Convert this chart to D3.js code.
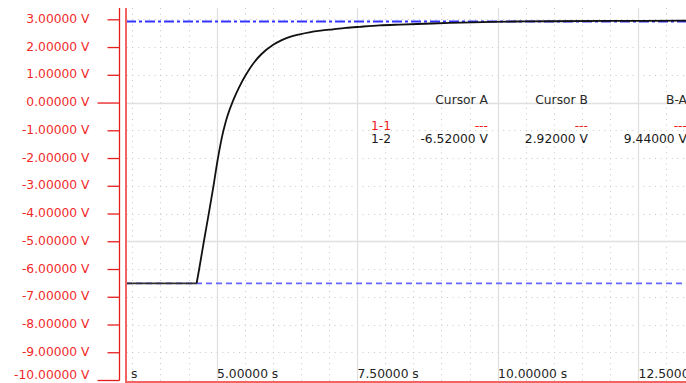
<!DOCTYPE html>
<html><head><meta charset="utf-8">
<script src="https://cdn.jsdelivr.net/npm/d3@7"></script>
<style>
html,body{margin:0;padding:0;background:#fff;}
svg{display:block;font-family:"DejaVu Sans",Verdana,sans-serif;}
</style></head>
<body>
<svg id="c" width="686" height="383"></svg>
<script>
// ---- data ----
const flatT = [3.39, 4.644];
const flatV = [-6.52, -6.52];
const timeS = [4.644, 4.69, 4.774, 4.863, 4.945, 5.02, 5.10, 5.19, 5.295, 5.40, 5.521, 5.65, 5.80, 6.007, 6.15, 6.304, 6.48, 6.65, 6.85, 7.07, 7.30, 7.55, 7.90, 8.26, 8.70, 9.15, 9.74, 10.34, 11.0, 12.0, 13.4];
const volts = [-6.52, -6.0, -5.0, -3.98, -3.0, -2.05, -1.2, -0.5, 0.08, 0.55, 1.0, 1.4, 1.75, 2.08, 2.24, 2.37, 2.46, 2.53, 2.59, 2.64, 2.69, 2.73, 2.78, 2.81, 2.84, 2.87, 2.90, 2.92, 2.93, 2.94, 2.95];
const yTicks = [3, 2, 1, 0, -1, -2, -3, -4, -5, -6, -7, -8, -9, -10];
const yMajor = [0, -10];
const xTicks = [5, 7.5, 10, 12.5];
const cursorA = -6.52, cursorB = 2.92;
const cursorHeaders = ["Cursor A", "Cursor B", "B-A"];
const row11 = ["---", "---", "---"];
const row12 = ["-6.52000 V", "2.92000 V", "9.44000 V"];
const rowLabels = ["1-1", "1-2"];

// ---- layout ----
const svg = d3.select("#c");
const L = 126, R = 686, T = 8, B = 382;
const x = d3.scaleLinear().domain([5, 12.5]).range([216.6, 638.1]);
const y = d3.scaleLinear().domain([-10, 3]).range([380, 19.3]);
const tMin = x.invert(L), tMax = x.invert(R);
const vMax = y.invert(T);

svg.append("clipPath").attr("id","clip").append("rect")
  .attr("x", L+1).attr("y", T).attr("width", R-L-1).attr("height", B-T-1);
const plot = svg.append("g").attr("clip-path","url(#clip)");

// dotted minor grid
const dx = x(5.1) - x(5), dy = y(0) - y(0.2);
const vMinor = d3.range(Math.ceil(tMin*2)/2, tMax, 0.5).filter(t => Math.abs(t/2.5 - Math.round(t/2.5)) > 1e-6);
plot.selectAll(".vminor").data(vMinor).join("line")
  .attr("x1", d => Math.round(x(d))+0.5).attr("x2", d => Math.round(x(d))+0.5)
  .attr("y1", y(vMax)).attr("y2", B)
  .attr("stroke", "#c8c8c8").attr("stroke-width", 1)
  .attr("stroke-dasharray", `1,${dy-1}`);
const hMinor = d3.range(-10, 4, 1).filter(v => v % 5 !== 0);
plot.selectAll(".hminor").data(hMinor).join("line")
  .attr("x1", L).attr("x2", R)
  .attr("y1", d => Math.round(y(d))+0.5).attr("y2", d => Math.round(y(d))+0.5)
  .attr("stroke", "#c8c8c8").attr("stroke-width", 1)
  .attr("stroke-dasharray", `1,${dx-1}`)
  .attr("stroke-dashoffset", -((x(3.5)-L) % dx));

// major grid
plot.selectAll(".vmajor").data(xTicks).join("line")
  .attr("x1", d => Math.round(x(d))+0.5).attr("x2", d => Math.round(x(d))+0.5)
  .attr("y1", T).attr("y2", B)
  .attr("stroke", "#e0e0e0").attr("stroke-width", 1.3);
plot.selectAll(".hmajor").data([0, -5]).join("line")
  .attr("x1", L).attr("x2", R)
  .attr("y1", d => Math.round(y(d))+0.5).attr("y2", d => Math.round(y(d))+0.5)
  .attr("stroke", "#e0e0e0").attr("stroke-width", 1.3);

// cursor lines
plot.append("line").attr("x1", L).attr("x2", R)
  .attr("y1", y(cursorB)).attr("y2", y(cursorB))
  .attr("stroke", "#3333ff").attr("stroke-width", 1.8)
  .attr("stroke-dasharray", "10,3,3,3");
plot.append("line").attr("x1", L).attr("x2", R)
  .attr("y1", y(cursorA)).attr("y2", y(cursorA))
  .attr("stroke", "#6666ff").attr("stroke-width", 1.8)
  .attr("stroke-dasharray", "6,4");

// trace
const lineGen = d3.line().x(d => x(d[0])).y(d => y(d[1]));
plot.append("path").datum(flatT.map((t, i) => [t, flatV[i]]))
  .attr("d", lineGen)
  .attr("fill", "none").attr("stroke", "#303030").attr("stroke-width", 1.8);
plot.append("path").datum(timeS.map((t, i) => [t, volts[i]]))
  .attr("d", lineGen.curve(d3.curveCatmullRom.alpha(0.5)))
  .attr("fill", "none").attr("stroke", "#111").attr("stroke-width", 1.8);

// cursor table
const tbl = svg.append("g").attr("font-size", "12.3px");
const colRight = [488, 588, 687];
tbl.selectAll(".hdr").data(cursorHeaders).join("text")
  .attr("x", (d,i) => colRight[i]).attr("y", 104).attr("text-anchor","end")
  .attr("fill", "#2a2a2a").text(d => d);
tbl.append("text").attr("x", 371).attr("y", 130).attr("fill", "#ee1c1c").text(rowLabels[0]);
tbl.append("text").attr("x", 371).attr("y", 143).attr("fill", "#1a1a1a").text(rowLabels[1]);
tbl.selectAll(".r11").data(row11).join("text")
  .attr("x", (d,i) => colRight[i]).attr("y", 130).attr("text-anchor","end")
  .attr("fill", "#ee1c1c").text(d => d);
tbl.selectAll(".r12").data(row12).join("text")
  .attr("x", (d,i) => colRight[i]).attr("y", 143).attr("text-anchor","end")
  .attr("fill", "#1a1a1a").text(d => d);

// y axis
const fmtV = v => v.toFixed(5) + " V";
const yAxis = svg.append("g").attr("transform", "translate(119.5,0)")
  .call(d3.axisLeft(y).tickValues(yTicks).tickSize(12).tickPadding(18).tickFormat(fmtV));
yAxis.select(".domain").remove();
yAxis.selectAll(".tick line").attr("stroke", "#e61e1e").attr("stroke-width", 1.3)
  .attr("x2", d => yMajor.includes(d) ? -22 : -12);
yAxis.selectAll(".tick text").attr("fill", "#f02828")
  .attr("font-size", "12.3px").attr("font-family", "DejaVu Sans, sans-serif")
  .attr("dy", "0.25em")
  .attr("y", d => d === -10 ? -5 : 0);
yAxis.append("line").attr("x1", 0).attr("x2", 0).attr("y1", T).attr("y2", y(-10)+0.6)
  .attr("stroke", "#e61e1e").attr("stroke-width", 1.3);

// x axis labels
const fmtS = t => t.toFixed(5) + " s";
const xAxis = svg.append("g").attr("transform", `translate(0,${B})`)
  .call(d3.axisBottom(x).tickValues(xTicks).tickSize(0).tickFormat(fmtS));
xAxis.select(".domain").remove();
xAxis.selectAll(".tick text").attr("text-anchor", "start").attr("dy", null)
  .attr("y", -4).attr("x", 0).attr("fill", "#222")
  .attr("font-size", "12.3px").attr("font-family", "DejaVu Sans, sans-serif");
svg.append("text").attr("x", 131).attr("y", B-4).attr("fill", "#222")
  .attr("font-size", "12.3px").text("s");

// frame
svg.append("line").attr("x1", L).attr("x2", L).attr("y1", T).attr("y2", B+1)
  .attr("stroke", "#f06464").attr("stroke-width", 2);
svg.append("line").attr("x1", L-1).attr("x2", R).attr("y1", B).attr("y2", B)
  .attr("stroke", "#f06464").attr("stroke-width", 2);
</script>
</body></html>
